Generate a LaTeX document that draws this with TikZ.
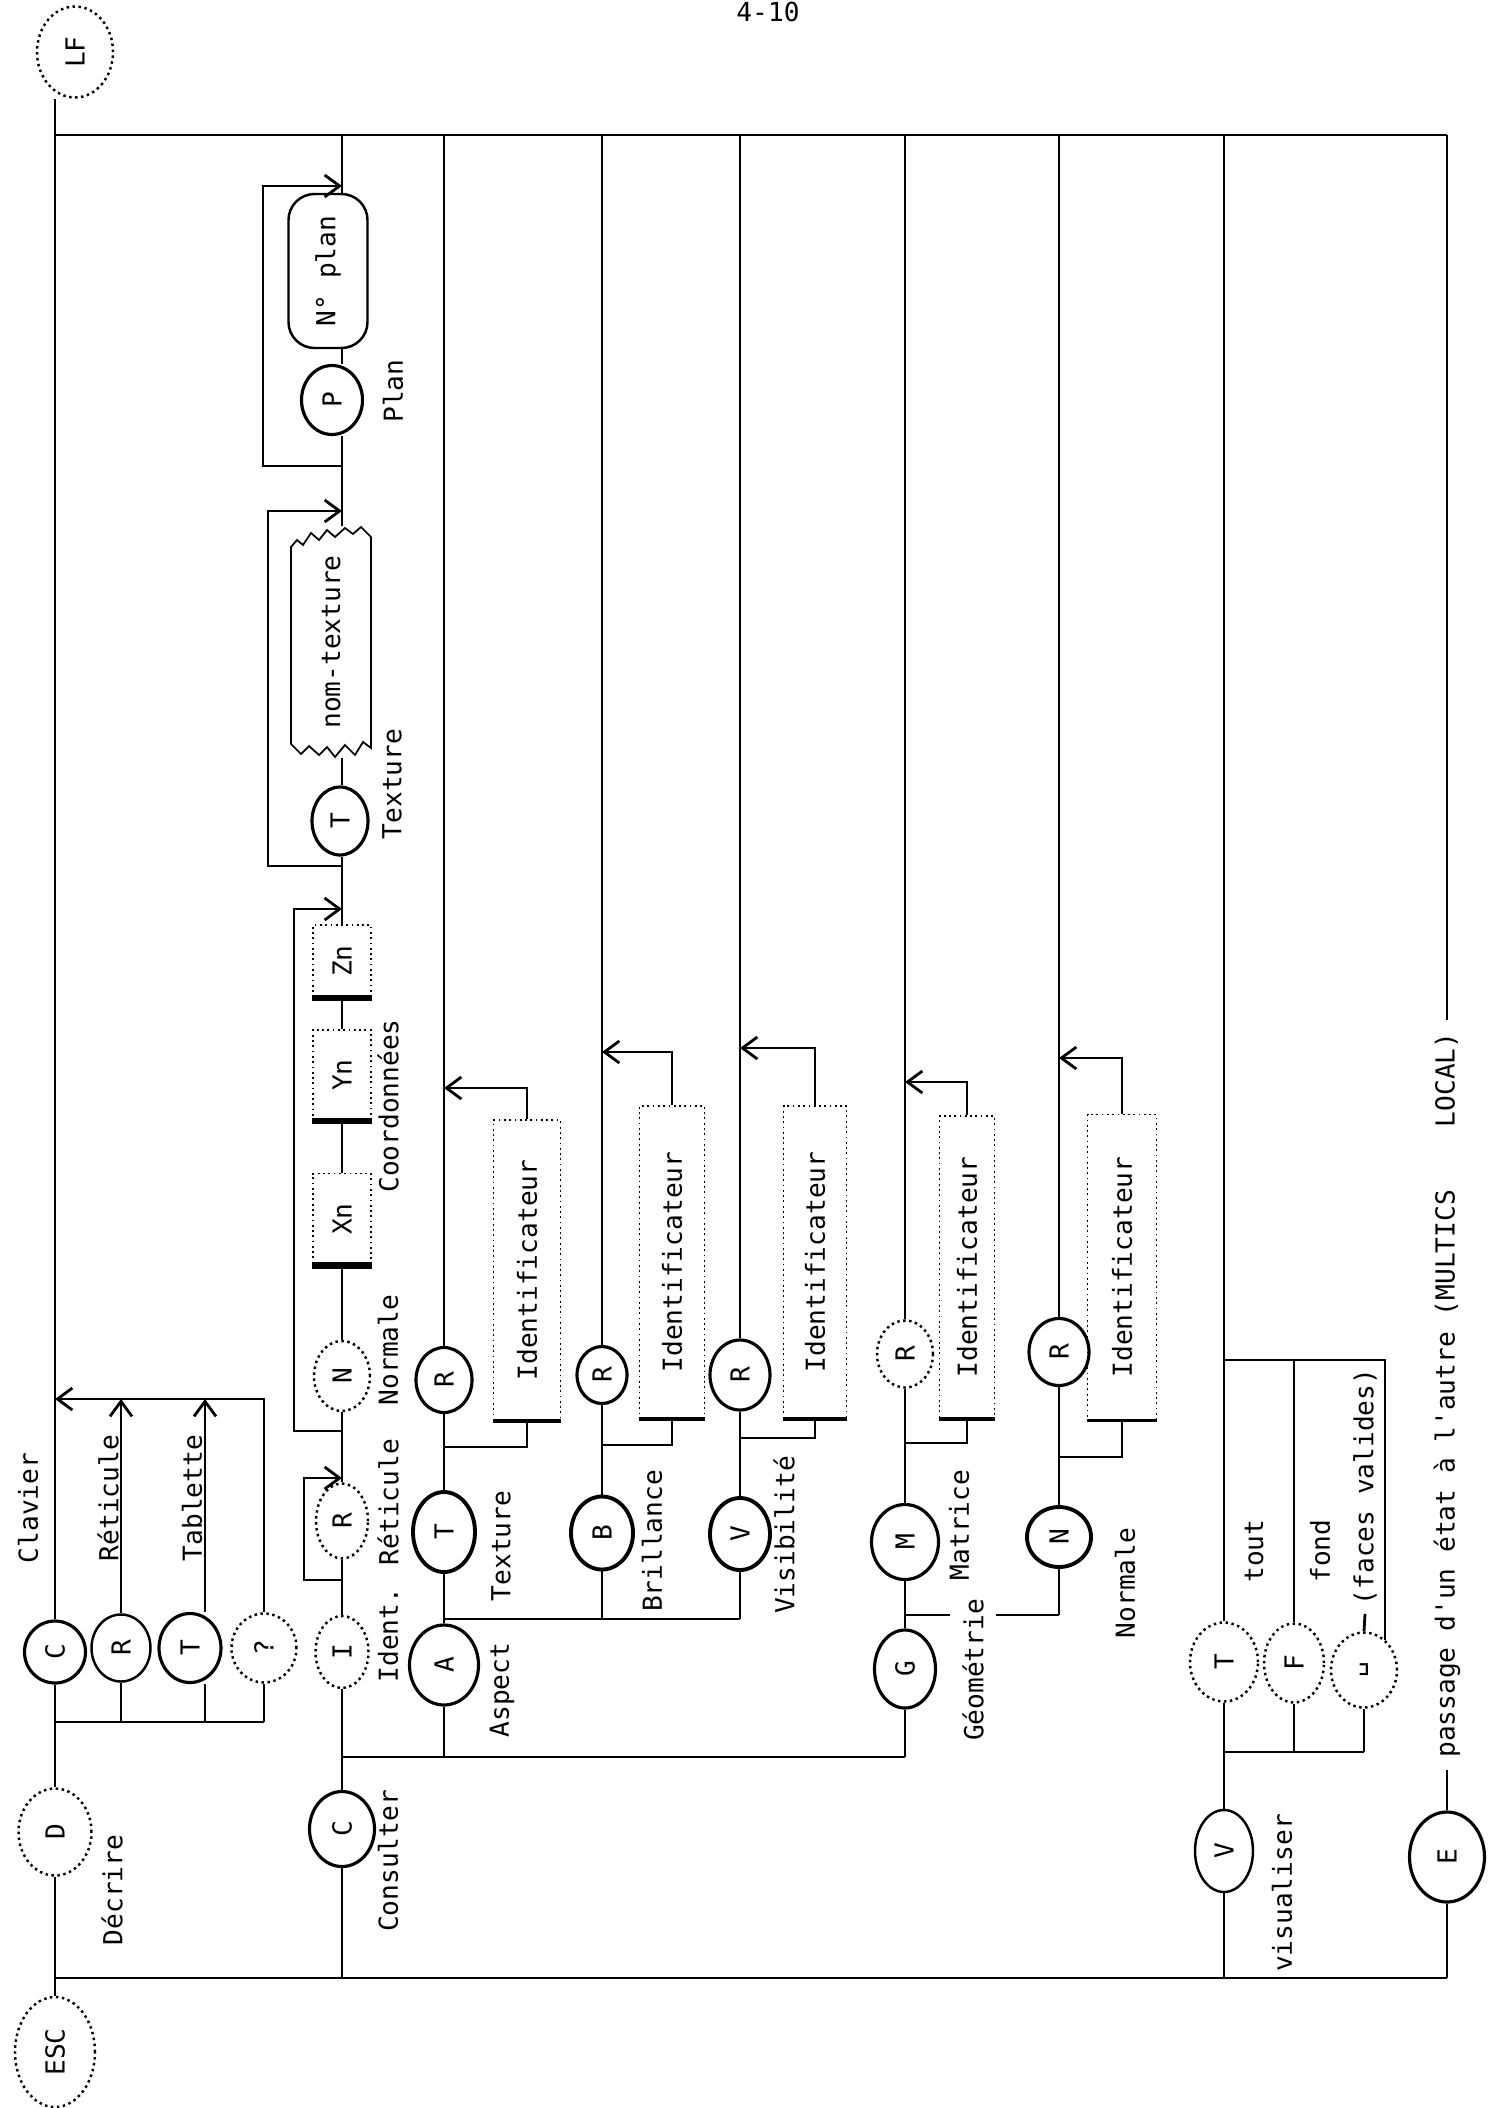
\documentclass[tikz,border=0pt]{standalone}
\usepackage{graphicx}
\usepackage{fontspec}
\setmonofont{DejaVu Sans Mono}
\usetikzlibrary{shapes.geometric,arrows.meta,calc}
\newcommand{\rtx}[1]{\rotatebox{90}{#1}}
\begin{document}
\begin{tikzpicture}[x=0.1mm,y=-0.1mm,
  every node/.style={font=\ttfamily\fontsize{7.45}{9}\selectfont, inner sep=0pt},
  ln/.style={line width=0.8pt},
  lnt/.style={line width=0.55pt},
  ov/.style={ellipse, draw, line width=0.9pt},
  ovd/.style={ellipse, draw, line width=0.7pt, densely dotted},
  sz/.style 2 args={minimum width=#1*0.1mm, minimum height=#2*0.1mm},
  lbl/.style={rotate=90},
  idb/.style={draw, densely dotted, line width=0.5pt},
  cbx/.style={draw, densely dotted, line width=0.5pt},
  arr/.style={-{Straight Barb[length=1.5mm,width=2.2mm]}},
]
\path[use as bounding box] (0,0) rectangle (1495,2108);

% page number
\node[anchor=base] (pg) at (768,21) {4-10};

% ---------- Decrire ----------
\node[ovd, sz={76}{91}] (LF) at (75,52) {\rtx{LF}};
\node[ov, sz={61}{62}] (C1) at (55,1652) {\rtx{C}};
\node[ov, line width=0.7pt, sz={59}{67}] (R1) at (121,1648) {\rtx{R}};
\node[ov, sz={62}{69}] (T1) at (190,1648) {\rtx{T}};
\node[ovd, sz={65}{69}] (Q1) at (264,1648) {\rtx{?}};
\node[ovd, sz={73}{87}] (D) at (55,1832) {\rtx{D}};
\node[ovd, sz={80}{110}] (ESC) at (55,2052) {\rtx{ESC}};

\node[lbl] (lClav) at (28,1508) {Clavier};
\node[lbl] (lRet1) at (108,1498) {Réticule};
\node[lbl] (lTab) at (192,1498) {Tablette};
\node[lbl] (lDec) at (112,1890) {Décrire};

\coordinate (xT) at (205,1648);
\coordinate (jD) at (55,1722);
\coordinate (ja) at (55,1399);
\coordinate (top) at (55,135);
\coordinate (bot) at (55,1978);

% ---------- E (passage) ----------
\node[ov, sz={75}{90}] (E) at (1447,1857) {\rtx{E}};
\node[lbl, inner xsep=1.2mm] (pass) at (1447,1395) {passage d'un état à l'autre (MULTICS~~~~LOCAL)};

% main top and bottom lines, spine
\draw[ln] (top) -- (top -| pass.east);
\draw[ln] (bot) -- (bot -| E.south);
\draw[ln] (ESC.north) -- (D.south);
\draw[ln] (D.north) -- (C1.south);
\draw[ln] (C1.north) -- (C1.north |- LF.south);
\draw[ln] (jD) -- (jD -| Q1.south);
\draw[ln] (R1.south) -- (R1.south |- jD);
\draw[ln] (T1.south -| xT) -- (xT |- jD);
\draw[ln] (Q1.south) -- (Q1.south |- jD);
\draw[ln,arr] (R1.north) -- (R1.north |- ja);
\draw[ln,arr] (T1.north -| xT) -- (xT |- ja);
\draw[ln,arr] (Q1.north) |- (ja);

\draw[ln] (E.north) -- (pass.west);
\draw[lnt] (pass.east) -- (pass.east |- top);
\draw[ln] (E.south) -- (E.south |- bot);

% ---------- Consulter ----------
\node[ov, sz={65}{75}] (C2) at (342,1829) {\rtx{C}};
\node[lbl] (lCons) at (388,1861) {Consulter};
\coordinate (jC) at (342,1757);
\node[ovd, sz={53}{72}] (I) at (342,1652) {\rtx{I}};
\node[lbl] (lId) at (388,1635) {Ident.};
\node[ovd, sz={52}{75}] (R2) at (342,1521) {\rtx{R}};
\node[lbl] (lRet2) at (388,1502) {Réticule};
\node[ovd, sz={56}{70}] (N2) at (342,1376) {\rtx{N}};
\node[lbl] (lNor1) at (388,1350) {Normale};
\node[cbx, sz={58}{91}] (Xn) at (342,1219) {\rtx{Xn}};
\node[cbx, sz={58}{90}] (Yn) at (342,1075) {\rtx{Yn}};
\node[cbx, sz={58}{72}] (Zn) at (342,961) {\rtx{Zn}};
\node[lbl] (lCoo) at (388,1106) {Coordonnées};
\node[ov, sz={56}{68}] (T3) at (340,821) {\rtx{T}};
\node[lbl] (lTex1) at (392,784) {Texture};
\node[sz={81}{230}] (nt) at (331,642) {\rtx{nom-texture}};
\node[ov, sz={61}{69}] (P) at (332,400) {\rtx{P}};
\node[lbl] (lPlan) at (393,391) {Plan};
\node[draw, rounded corners=2.6mm, line width=0.7pt, sz={79}{154}] (Np) at (328,271) {\rtx{N° plan}};

% wavy outline of nom-texture
\draw[line width=0.5pt] (291,547) -- (297,540) -- (303,545) -- (311,533) -- (319,540) -- (327,530)
  -- (335,537) -- (345,528) -- (353,534) -- (361,527) -- (371,537)
  -- (371,748) -- (363,742) -- (355,755) -- (345,745) -- (335,757) -- (327,747)
  -- (319,755) -- (309,746) -- (301,754) -- (291,744) -- cycle;

\foreach \b in {Xn,Yn,Zn} \draw[line width=1.9pt] (\b.south west) -- (\b.south east);

\coordinate (c1) at (342,1580);
\coordinate (c2) at (342,1478);
\coordinate (c3) at (342,1431);
\coordinate (c4) at (342,909);
\coordinate (c5) at (342,866);
\coordinate (c6) at (342,511);
\coordinate (c7) at (342,466);
\coordinate (c8) at (342,186);

\draw[ln] (C2.south) -- (C2.south |- bot);
\draw[ln] (C2.north) -- (jC);
\draw[ln] (jC) -- (I.south);
\draw[ln] (I.north) -- (R2.south);
\draw[ln] (R2.north) -- (N2.south);
\draw[ln] (N2.north) -- (Xn.south);
\draw[ln] (Xn.north) -- (Yn.south);
\draw[ln] (Yn.north) -- (Zn.south);
\draw[ln] (Zn.north) -- (Zn.north |- T3.south);
\draw[ln] (T3.south -| Zn.north) -- (T3.south -| Zn.north);
\draw[ln] (T3.north -| Zn.north) -- (Zn.north |- nt.south);
\draw[ln] (nt.north -| Zn.north) -- (Zn.north |- P.south);
\draw[ln] (P.north -| Zn.north) -- (Zn.north |- Np.south);
\draw[ln] (Np.north -| Zn.north) -- (Zn.north |- top);

\draw[ln,arr] (c1) -- ++(-38,0) |- (c2);
\draw[ln,arr] (c3) -- ++(-48,0) |- (c4);
\draw[ln,arr] (c5) -- ++(-74,0) |- (c6);
\draw[ln,arr] (c7) -- ++(-79,0) |- (c8);

% ---------- Aspect : Texture ----------
\node[ov, sz={56}{65}] (R3) at (444,1380) {\rtx{R}};
\node[ov, line width=1.1pt, sz={62}{80}] (T4) at (444,1532) {\rtx{T}};
\node[ov, sz={69}{80}] (A) at (444,1665) {\rtx{A}};
\node[idb, sz={67}{300}] (B1) at (527,1270) {\rtx{Identificateur}};
\node[lbl] (lTex2) at (501,1546) {Texture};
\node[lbl] (lAsp) at (502,1690) {Aspect};
\coordinate (a3) at (444,1088);
\coordinate (jT) at (444,1447);
\coordinate (jA) at (444,1619);

% Brillance
\node[ov, sz={50}{57}] (R4) at (602,1375) {\rtx{R}};
\node[idb, sz={65}{312}] (B2) at (672,1262) {\rtx{Identificateur}};
\node[ov, line width=1.1pt, sz={62}{73}] (Bn) at (602,1533) {\rtx{B}};
\node[lbl] (lBri) at (652,1541) {Brillance};
\coordinate (a4) at (602,1052);
\coordinate (jB) at (602,1445);

% Visibilite
\node[ov, sz={60}{70}] (R5) at (740,1375) {\rtx{R}};
\node[idb, sz={63}{312}] (B3) at (815,1262) {\rtx{Identificateur}};
\node[ov, line width=1.1pt, sz={60}{72}] (V) at (740,1534) {\rtx{V}};
\node[lbl] (lVis) at (784,1535) {Visibilité};
\coordinate (a5) at (740,1048);
\coordinate (jV) at (740,1438);

% Matrice / Geometrie
\node[ovd, sz={56}{67}] (R6) at (905,1354) {\rtx{R}};
\node[idb, sz={55}{302}] (B4) at (967,1267) {\rtx{Identificateur}};
\node[ov, sz={67}{75}] (M) at (905,1542) {\rtx{M}};
\node[ov, sz={61}{78}] (G) at (905,1669) {\rtx{G}};
\node[lbl] (lMat) at (959,1525) {Matrice};
\coordinate (a6) at (905,1082);
\coordinate (jM) at (905,1443);
\coordinate (jG) at (905,1615);

% Normale (geometrie)
\node[ov, sz={60}{67}] (R7) at (1059,1352) {\rtx{R}};
\node[idb, sz={69}{305}] (B5) at (1122,1267) {\rtx{Identificateur}};
\node[ov, line width=1.1pt, sz={64}{60}] (N3) at (1059,1537) {\rtx{N}};
\node[lbl] (lNor2) at (1125,1583) {Normale};
\coordinate (a7) at (1059,1058);
\coordinate (jN) at (1059,1457);

\foreach \b in {B1,B2,B3,B4,B5} \draw[line width=1pt] (\b.south west) -- (\b.south east);

% connectors of the R / Identificateur pairs
\draw[lnt] (R3.north) -- (R3.north |- top);
\draw[lnt] (R4.north) -- (R4.north |- top);
\draw[lnt] (R5.north) -- (R5.north |- top);
\draw[lnt] (R6.north) -- (R6.north |- top);
\draw[lnt] (R7.north) -- (R7.north |- top);
\draw[ln,arr] (B1.north) |- (a3);
\draw[ln,arr] (B2.north) |- (a4);
\draw[ln,arr] (B3.north) |- (a5);
\draw[ln,arr] (B4.north) |- (a6);
\draw[ln,arr] (B5.north) |- (a7);
\draw[ln] (R3.south) -- (jT) -| (B1.south);
\draw[ln] (R4.south) -- (jB) -| (B2.south);
\draw[ln] (R5.south) -- (jV) -| (B3.south);
\draw[ln] (R6.south) -- (jM) -| (B4.south);
\draw[ln] (R7.south) -- (jN) -| (B5.south);
\draw[ln] (jT) -- (T4.north);
\draw[ln] (jB) -- (Bn.north);
\draw[ln] (jV) -- (V.north);
\draw[ln] (jM) -- (M.north);
\draw[ln] (jN) -- (N3.north);

% Aspect junction
\draw[ln] (T4.south) -- (jA);
\draw[ln] (jA) -- (A.north);
\draw[ln] (jA) -- (jA -| V.south);
\draw[ln] (Bn.south) -- (Bn.south |- jA);
\draw[ln] (V.south) -- (V.south |- jA);
\draw[ln] (A.south) -- (A.south |- jC);

% Geometrie junction
\draw[ln] (M.south) -- (jG);
\draw[ln] (jG) -- (G.north);
\draw[ln] (jG) -- (jG -| N3.south);
\draw[ln] (N3.south) -- (N3.south |- jG);
\draw[ln] (G.south) -- (G.south |- jC);
\draw[ln] (jC) -- (jC -| G.south);
\node[lbl, fill=white, inner ysep=1.2mm, inner xsep=0.3mm] (lGeo) at (973,1670) {Géométrie};

% ---------- Visualiser ----------
\node[ovd, sz={68}{79}] (T5) at (1224,1662) {\rtx{T}};
\node[ovd, sz={60}{79}] (F) at (1294,1663) {\rtx{F}};
\node[ovd, sz={66}{75}] (BL) at (1364,1670) {\rtx{␣}};
\node[ov, line width=0.7pt, sz={58}{82}] (V2) at (1224,1851) {\rtx{V}};
\node[lbl] (lTout) at (1254,1551) {tout};
\node[lbl] (lFond) at (1320,1551) {fond};
\node[lbl, inner xsep=0.8mm] (fv) at (1365,1487) {(faces valides)};
\node[lbl] (lVisu) at (1282,1893) {visualiser};
\coordinate (xTo) at (1224,1360);
\coordinate (xFv) at (1385,1360);
\coordinate (jVis) at (1224,1752);

\draw[lnt] (T5.north) -- (T5.north |- top);
\draw[ln] (xTo) -- (xFv) -- (xFv |- BL.55);
\draw[ln] (F.north) -- (F.north |- xTo);
\draw[ln] (BL.north) -- (fv.west);
\draw[ln] (T5.south) -- (jVis);
\draw[ln] (jVis) -- (jVis -| BL.south);
\draw[ln] (F.south) -- (F.south |- jVis);
\draw[ln] (BL.south) -- (BL.south |- jVis);
\draw[ln] (jVis) -- (V2.north);
\draw[ln] (V2.south) -- (V2.south |- bot);
\end{tikzpicture}
\end{document}
